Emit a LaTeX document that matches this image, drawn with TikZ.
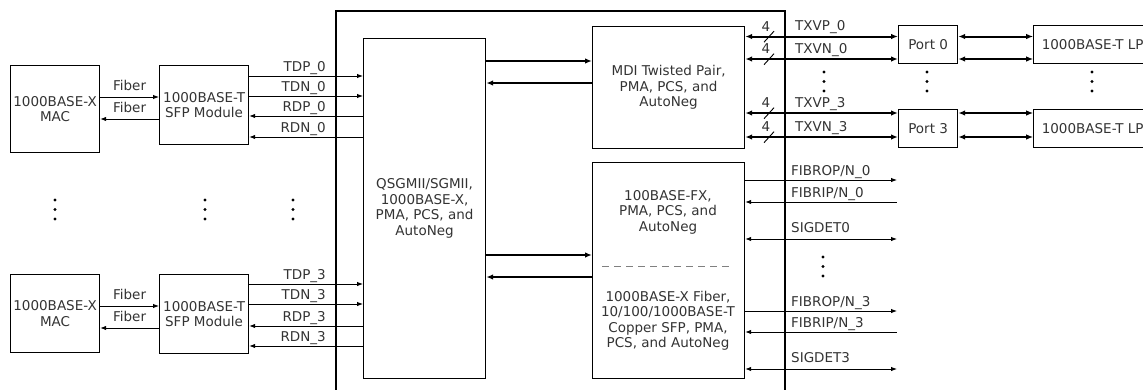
\documentclass[tikz,border=0pt]{standalone}
\usepackage{fontspec}
\setmainfont{DejaVu Sans}
\usetikzlibrary{positioning,arrows.meta,calc}

\begin{document}
\begin{tikzpicture}[
        x=1pt, y=-1pt,
        font=\fontsize{13.5}{15.5}\selectfont,
        text=black!80,
        box/.style={draw, line width=1.2pt, align=center, inner sep=0pt},
        lbl/.style={inner sep=0pt},
        sig/.style={-{Latex[length=6pt,width=4.5pt]}, line width=0.9pt},
        sigback/.style={{Latex[length=6pt,width=4.5pt]}-, line width=0.9pt},
        sigboth/.style={{Latex[length=6pt,width=4.5pt]}-{Latex[length=6pt,width=4.5pt]}, line width=0.9pt},
        bus/.style={-{Latex[length=7pt,width=5.5pt]}, line width=2pt},
        busboth/.style={{Latex[length=7pt,width=5.5pt]}-{Latex[length=7pt,width=5.5pt]}, line width=2pt},
        slash/.style={line width=0.9pt},
        dotcol/.style={line width=3.2pt, line cap=round, dash pattern=on 0pt off 9.5pt}
    ]
        \useasboundingbox (0,0) rectangle (1143,389);

        % chip outline
        \node[draw, line width=2.4pt, inner sep=0pt, anchor=north west, minimum width=449pt, minimum height=420pt] (chip) at (335,10) {};

        % MACs and SFP modules
        \node[box, anchor=north west, minimum width=89pt, minimum height=87pt] (mac0) at (10,65) {1000BASE-X\\MAC};
        \node[box, anchor=north west, minimum width=89pt, minimum height=79pt] (sfp0) at (159,65) {1000BASE-T\\SFP Module};
        \node[box, anchor=north west, minimum width=89pt, minimum height=78pt] (mac3) at (10,274) {1000BASE-X\\MAC};
        \node[box, anchor=north west, minimum width=89pt, minimum height=79pt] (sfp3) at (159,274) {1000BASE-T\\SFP Module};

        % blocks inside the chip
        \node[box, anchor=north west, minimum width=122pt, minimum height=340pt] (qsg) at (363,38) {QSGMII/SGMII,\\1000BASE-X,\\PMA, PCS, and\\AutoNeg};
        \node[box, anchor=north west, minimum width=152pt, minimum height=122pt] (mdi) at (592,26) {MDI Twisted Pair,\\PMA, PCS, and\\AutoNeg};
        \node[box, anchor=north west, minimum width=152pt, minimum height=216pt] (fx) at (592,162) {};
        \node[lbl, align=center] (fxtop) at (668,212) {100BASE-FX,\\PMA, PCS, and\\AutoNeg};
        \node[lbl, align=center] (fxbot) at (668,321) {1000BASE-X Fiber,\\10/100/1000BASE-T\\Copper SFP, PMA,\\PCS, and AutoNeg};
        \draw[gray, line width=0.9pt, dash pattern=on 7pt off 5pt, shorten <=10pt, shorten >=12pt] (fx.west |- 0,266) -- (fx.east |- 0,266);

        % ports and link partners
        \node[box, anchor=north west, minimum width=59pt, minimum height=38pt] (port0) at (898,25) {Port 0};
        \node[box, minimum width=59pt, minimum height=38pt, below=45pt of port0] (port3) {Port 3};
        \node[box, inner xsep=8pt, minimum height=38pt, right=75pt of port0] (lp0) {1000BASE-T LP};
        \node[box, inner xsep=8pt, minimum height=38pt, right=75pt of port3] (lp3) {1000BASE-T LP};
        \coordinate (fibend) at (897,0);

        % fiber links
        \draw[sig] (mac0.east |- 0,97) -- (sfp0.west |- 0,97) node[lbl, midway, above=6pt] (fib0a) {Fiber};
        \draw[sig] (sfp0.west |- 0,119) -- (mac0.east |- 0,119) node[lbl, midway, above=6pt] (fib0b) {Fiber};
        \draw[sig] (mac3.east |- 0,306) -- (sfp3.west |- 0,306) node[lbl, midway, above=6pt] (fib3a) {Fiber};
        \draw[sig] (sfp3.west |- 0,328) -- (mac3.east |- 0,328) node[lbl, midway, above=6pt] (fib3b) {Fiber};

        % serial lines
        \draw[sig] (sfp0.east |- 0,76) -- (qsg.west |- 0,76);
        \draw[sig] (sfp0.east |- 0,96) -- (qsg.west |- 0,96);
        \draw[sigback] (sfp0.east |- 0,116) -- (qsg.west |- 0,116);
        \draw[sigback] (sfp0.east |- 0,137) -- (qsg.west |- 0,137);
        \node[lbl, anchor=base east] (tdp0) at (326,71) {TDP\_0};
        \node[lbl, anchor=base east] (tdn0) at (326,91) {TDN\_0};
        \node[lbl, anchor=base east] (rdp0) at (326,111) {RDP\_0};
        \node[lbl, anchor=base east] (rdn0) at (326,132) {RDN\_0};
        \draw[sig] (sfp3.east |- 0,284) -- (qsg.west |- 0,284);
        \draw[sig] (sfp3.east |- 0,304) -- (qsg.west |- 0,304);
        \draw[sigback] (sfp3.east |- 0,326) -- (qsg.west |- 0,326);
        \draw[sigback] (sfp3.east |- 0,346) -- (qsg.west |- 0,346);
        \node[lbl, anchor=base east] (tdp3) at (326,279) {TDP\_3};
        \node[lbl, anchor=base east] (tdn3) at (326,299) {TDN\_3};
        \node[lbl, anchor=base east] (rdp3) at (326,321) {RDP\_3};
        \node[lbl, anchor=base east] (rdn3) at (326,341) {RDN\_3};

        % internal buses
        \draw[bus] (qsg.east |- 0,61) -- (mdi.west |- 0,61);
        \draw[bus] (mdi.west |- 0,83) -- (qsg.east |- 0,83);
        \draw[bus] (qsg.east |- 0,255) -- (fx.west |- 0,255);
        \draw[bus] (fx.west |- 0,277) -- (qsg.east |- 0,277);

        % twisted pair
        \draw[busboth] (mdi.east |- 0,36.5) -- (port0.west |- 0,36.5);
        \draw[busboth] (mdi.east |- 0,59) -- (port0.west |- 0,59);
        \draw[busboth] (mdi.east |- 0,113) -- (port3.west |- 0,113);
        \draw[busboth] (mdi.east |- 0,137) -- (port3.west |- 0,137);
        \node[lbl, anchor=base] (w0p) at (766,31) {4};
        \node[lbl, anchor=base] (w0n) at (766,53.5) {4};
        \node[lbl, anchor=base] (w3p) at (766,107.5) {4};
        \node[lbl, anchor=base] (w3n) at (766,131.5) {4};
        \draw[slash] ([shift={(-2,11)}]w0p.south) -- ++(10,-11);
        \draw[slash] ([shift={(-2,11)}]w0n.south) -- ++(10,-11);
        \draw[slash] ([shift={(-2,11)}]w3p.south) -- ++(10,-11);
        \draw[slash] ([shift={(-2,11)}]w3n.south) -- ++(10,-11);
        \node[lbl, anchor=base west] (txvp0) at (795,30.5) {TXVP\_0};
        \node[lbl, anchor=base west] (txvn0) at (795,53) {TXVN\_0};
        \node[lbl, anchor=base west] (txvp3) at (795,107) {TXVP\_3};
        \node[lbl, anchor=base west] (txvn3) at (795,131) {TXVN\_3};
        \draw[busboth] (port0.east |- 0,36.5) -- (lp0.west |- 0,36.5);
        \draw[busboth] (port0.east |- 0,59) -- (lp0.west |- 0,59);
        \draw[busboth] (port3.east |- 0,113) -- (lp3.west |- 0,113);
        \draw[busboth] (port3.east |- 0,137) -- (lp3.west |- 0,137);

        % fiber side
        \draw[sig] (fx.east |- 0,180) -- (fibend |- 0,180);
        \draw[sigback] (fx.east |- 0,202) -- (fibend |- 0,202);
        \draw[sigboth] (fx.east |- 0,239) -- (fibend |- 0,239);
        \draw[sig] (fx.east |- 0,311) -- (fibend |- 0,311);
        \draw[sigback] (fx.east |- 0,332) -- (fibend |- 0,332);
        \draw[sigboth] (fx.east |- 0,369) -- (fibend |- 0,369);
        \node[lbl, anchor=base west] (fibrop0) at (791,175) {FIBROP/N\_0};
        \node[lbl, anchor=base west] (fibrip0) at (791,197) {FIBRIP/N\_0};
        \node[lbl, anchor=base west] (sigdet0) at (791,232.5) {SIGDET0};
        \node[lbl, anchor=base west] (fibrop3) at (791,306) {FIBROP/N\_3};
        \node[lbl, anchor=base west] (fibrip3) at (791,327) {FIBRIP/N\_3};
        \node[lbl, anchor=base west] (sigdet3) at (791,362.5) {SIGDET3};

        % dots
        \draw[dotcol] (55,200) -- (55,219.2);
        \draw[dotcol] (205,200) -- (205,219.2);
        \draw[dotcol] (293,200) -- (293,219.2);
        \draw[dotcol] (824,72) -- (824,91.2);
        \draw[dotcol] (927,72) -- (927,91.2);
        \draw[dotcol] (1092,72) -- (1092,91.2);
        \draw[dotcol] (823,257) -- (823,276.2);
    \end{tikzpicture}
\end{document}
